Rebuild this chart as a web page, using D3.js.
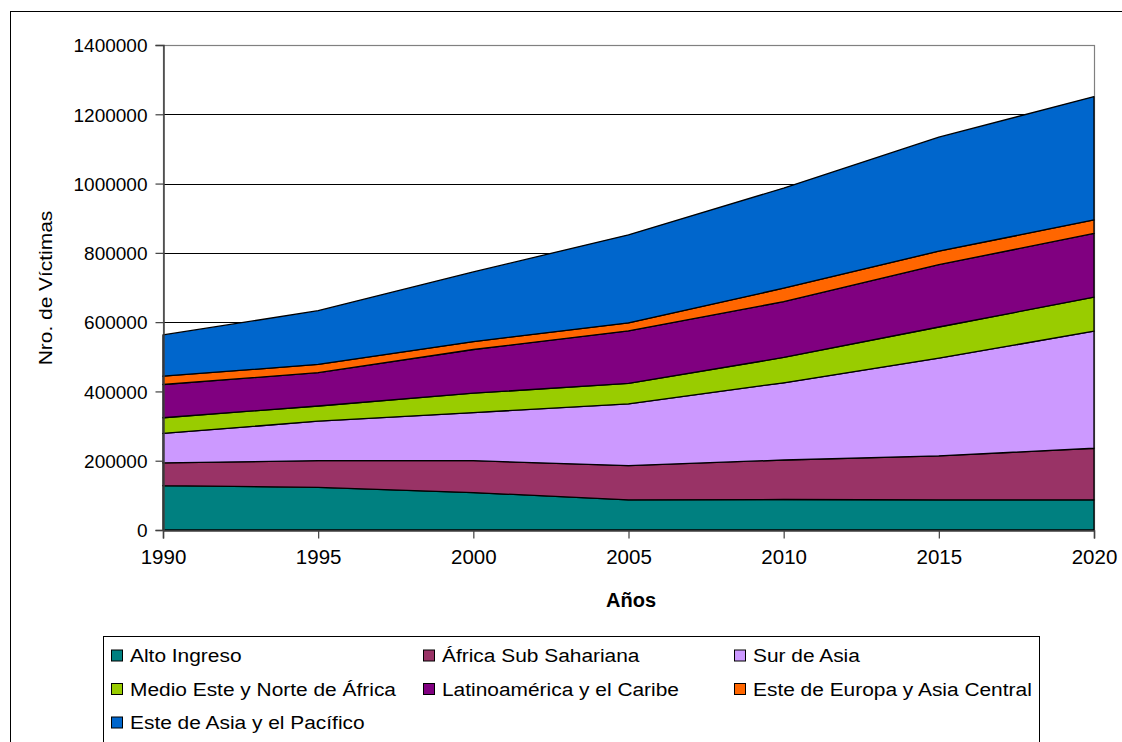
<!DOCTYPE html>
<html>
<head>
<meta charset="utf-8">
<script src="https://cdn.jsdelivr.net/npm/d3@7"></script>
<style>
  html, body { margin: 0; padding: 0; background: #fff; }
  svg { display: block; font-family: "Liberation Sans", Arial, sans-serif; }
</style>
</head>
<body>
<svg id="chart" width="1122" height="742"></svg>
<script>
// Years on the horizontal axis
const years = [1990, 1995, 2000, 2005, 2010, 2015, 2020];

// Victims per region (stacked bottom to top)
const altoIngreso      = [128000, 123000, 108000, 87000, 88000, 87000, 87000];
const africaSub        = [66000, 77000, 92000, 99000, 114000, 127000, 149000];
const surAsia          = [85000, 114000, 139000, 178000, 223000, 282000, 338000];
const medioEste        = [45000, 44000, 56000, 59000, 73000, 90000, 98000];
const latinoamerica    = [96000, 96000, 126000, 152000, 161000, 180000, 184000];
const esteEuropa       = [24000, 24000, 23000, 23000, 39000, 39000, 39000];
const esteAsiaPacifico = [119000, 155000, 201000, 254000, 289000, 329000, 356000];

const seriesNames = [
  "Alto Ingreso", "África Sub Sahariana", "Sur de Asia",
  "Medio Este y Norte de África", "Latinoamérica y el Caribe",
  "Este de Europa y Asia Central", "Este de Asia y el Pacífico"
];
const seriesValues = [altoIngreso, africaSub, surAsia, medioEste, latinoamerica, esteEuropa, esteAsiaPacifico];
const seriesColors = ["#008080", "#993366", "#CC99FF", "#99CC00", "#800080", "#FF6600", "#0066CC"];

const yTicks = [0, 200000, 400000, 600000, 800000, 1000000, 1200000, 1400000];

const svg = d3.select("#chart");
const plot = { left: 163, right: 1094, top: 45, bottom: 530 };

// Outer chart frame
svg.append("rect")
  .attr("x", 10.5).attr("y", 11.5)
  .attr("width", 1300).attr("height", 900)
  .attr("fill", "none").attr("stroke", "#000").attr("stroke-width", 1);

const x = d3.scaleLinear().domain([1990, 2020]).range([plot.left, plot.right]);
const y = d3.scaleLinear().domain([0, 1400000]).range([plot.bottom, plot.top]);

// Build table for stacking
const table = years.map((yr, i) => {
  const row = { year: yr };
  seriesNames.forEach((n, k) => { row[n] = seriesValues[k][i]; });
  return row;
});
const stacked = d3.stack().keys(seriesNames)(table);

// Gridlines
svg.append("g").selectAll("line")
  .data(yTicks.filter(t => t > 0 && t < 1400000))
  .join("line")
  .attr("x1", plot.left).attr("x2", plot.right)
  .attr("y1", d => Math.round(y(d)) + 0.5).attr("y2", d => Math.round(y(d)) + 0.5)
  .attr("stroke", "#000").attr("stroke-width", 1);

// Plot area border (gray)
svg.append("rect")
  .attr("x", plot.left + 0.5).attr("y", Math.round(y(1400000)) + 0.5)
  .attr("width", plot.right - plot.left)
  .attr("height", Math.round(y(0)) - Math.round(y(1400000)))
  .attr("fill", "none").attr("stroke", "#808080").attr("stroke-width", 1.2);

// Stacked areas
const area = d3.area()
  .x(d => x(d.data.year))
  .y0(d => y(d[0]))
  .y1(d => y(d[1]));

svg.append("g").selectAll("path")
  .data(stacked)
  .join("path")
  .attr("d", area)
  .attr("fill", (d, i) => seriesColors[i])
  .attr("stroke", "#000")
  .attr("stroke-width", 1.3)
  .attr("stroke-linejoin", "round");

// Axes
const yAxis = d3.axisLeft(y).tickValues(yTicks).tickFormat(d3.format("d")).tickSize(8).tickPadding(8);
const xAxis = d3.axisBottom(x).tickValues(years).tickFormat(d3.format("d")).tickSize(8).tickPadding(12);

const gy = svg.append("g").attr("transform", `translate(${plot.left + 0.5},0)`).call(yAxis);
const gx = svg.append("g").attr("transform", `translate(0,${Math.round(y(0)) + 0.5})`).call(xAxis);

[gx, gy].forEach(g => {
  g.select(".domain").attr("stroke", "#404040").attr("stroke-width", 1.5);
  g.selectAll(".tick line").attr("stroke", "#404040").attr("stroke-width", 1.2);
  g.selectAll(".tick text")
    .attr("fill", "#000")
    .style("font-family", "'Liberation Sans', Arial, sans-serif")
    .style("font-size", "19px");
});
gy.selectAll(".tick text").attr("dy", "0.36em");
gx.selectAll(".tick text").style("font-size", "20.5px").attr("y", 19);

// Axis titles
svg.append("text")
  .attr("x", 631).attr("y", 607)
  .attr("text-anchor", "middle")
  .style("font-size", "20px").style("font-weight", "bold")
  .text("Años");

svg.append("text")
  .attr("transform", "translate(52,288) rotate(-90) scale(1.1,1)")
  .attr("text-anchor", "middle")
  .style("font-size", "19px")
  .text("Nro. de Víctimas");

// Legend
const legend = svg.append("g");
legend.append("rect")
  .attr("x", 103.5).attr("y", 636.5)
  .attr("width", 936).attr("height", 200)
  .attr("fill", "#fff").attr("stroke", "#000").attr("stroke-width", 1);

const colX = [111, 423, 734];
const rowY = [655.5, 689, 722.5];
seriesNames.forEach((name, i) => {
  const cx = colX[i % 3];
  const cy = rowY[Math.floor(i / 3)];
  const item = legend.append("g");
  item.append("rect")
    .attr("x", cx + 0.5).attr("y", cy - 5.5)
    .attr("width", 11).attr("height", 11)
    .attr("fill", seriesColors[i]).attr("stroke", "#000").attr("stroke-width", 1);
  item.append("text")
    .attr("transform", `translate(${cx + 19},${cy}) scale(1.1,1)`)
    .attr("dy", "0.36em")
    .style("font-size", "19px")
    .text(name);
});
</script>
</body>
</html>
